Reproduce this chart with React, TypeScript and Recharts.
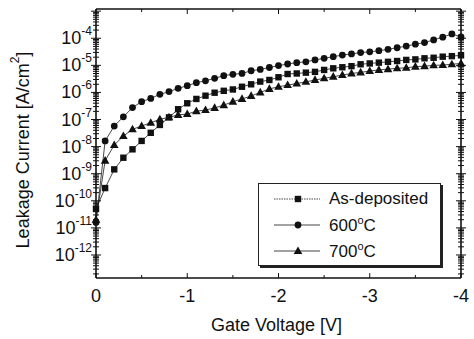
import React from 'react';
import { LineChart, Line, XAxis, YAxis, Legend, Label } from 'recharts';

// gate voltage (V), one point every 0.1 V
const voltage = [
  0, -0.1, -0.2, -0.3, -0.4, -0.5, -0.6, -0.7, -0.8, -0.9, -1.0,
  -1.1, -1.2, -1.3, -1.4, -1.5, -1.6, -1.7, -1.8, -1.9, -2.0,
  -2.1, -2.2, -2.3, -2.4, -2.5, -2.6, -2.7, -2.8, -2.9, -3.0,
  -3.1, -3.2, -3.3, -3.4, -3.5, -3.6, -3.7, -3.8, -3.9, -4.0,
];

// log10 of leakage current density (A/cm^2)
const asDeposited = [
  -10.3, -9.53, -8.84, -8.41, -8.10, -7.79, -7.49, -7.20, -6.92, -6.62, -6.40,
  -6.24, -6.12, -6.01, -5.94, -5.89, -5.79, -5.70, -5.60, -5.54, -5.44,
  -5.32, -5.30, -5.27, -5.24, -5.17, -5.11, -5.07, -5.03, -4.96, -4.93,
  -4.90, -4.87, -4.84, -4.80, -4.78, -4.74, -4.72, -4.68, -4.66, -4.63,
];
const annealed600 = [
  -10.8, -7.79, -7.24, -6.90, -6.56, -6.34, -6.22, -6.07, -5.97, -5.85, -5.75,
  -5.64, -5.57, -5.48, -5.38, -5.33, -5.30, -5.20, -5.15, -5.08, -5.01,
  -4.95, -4.90, -4.87, -4.80, -4.74, -4.68, -4.62, -4.58, -4.53, -4.50,
  -4.46, -4.41, -4.35, -4.29, -4.22, -4.16, -4.06, -3.96, -3.84, -3.95,
];
const annealed700 = [
  -10.7, -8.52, -7.94, -7.61, -7.36, -7.24, -7.12, -6.99, -6.92, -6.83, -6.80,
  -6.69, -6.65, -6.57, -6.47, -6.34, -6.24, -6.13, -6.00, -5.87, -5.79,
  -5.73, -5.67, -5.61, -5.54, -5.48, -5.42, -5.36, -5.30, -5.26, -5.21,
  -5.17, -5.14, -5.11, -5.09, -5.05, -5.03, -5.00, -4.99, -4.96, -4.93,
];

const decades = [-12, -11, -10, -9, -8, -7, -6, -5, -4];
const xTicks = [0, -0.5, -1, -1.5, -2, -2.5, -3, -3.5, -4];
const yDomain = [-12.85, -2.92];

const data = voltage.map((v, i) => ({
  v,
  asDep: asDeposited[i],
  c600: annealed600[i],
  c700: annealed700[i],
}));

// log minor ticks inside the domain
const yTicks: number[] = [];
for (let d = -13; d <= -3; d++) {
  for (let k = 1; k <= 9; k++) {
    const t = d + Math.log10(k);
    if (t >= yDomain[0] && t <= yDomain[1]) yTicks.push(t);
  }
}

const FONT = "'Liberation Sans', Arial, sans-serif";
const INK = '#111';

const isMajor = (t: number) => Math.abs(t - Math.round(t)) < 1e-6;

const LeftTick = (props: any) => {
  const { x, y, payload } = props;
  const major = isMajor(payload.value);
  const len = major ? 5 : 3;
  return (
    <g>
      <line x1={x - len} x2={x + len} y1={y} y2={y} stroke={INK} strokeWidth={1} />
      {major && decades.includes(Math.round(payload.value)) && (
        <text x={x - 4} y={y + 6} textAnchor="end" fontSize={18} fontFamily={FONT} fill={INK}>
          <tspan>10</tspan>
          <tspan dy={-9} fontSize={12}>{Math.round(payload.value)}</tspan>
        </text>
      )}
    </g>
  );
};

const RightTick = (props: any) => {
  const { x, y, payload } = props;
  const len = isMajor(payload.value) ? 5 : 3;
  return <line x1={x - len} x2={x + len} y1={y} y2={y} stroke={INK} strokeWidth={1} />;
};

const BottomTick = (props: any) => {
  const { x, y, payload } = props;
  const major = isMajor(payload.value);
  return (
    <g>
      <line x1={x} x2={x} y1={y} y2={y - (major ? 5 : 3)} stroke={INK} strokeWidth={1} />
      {major && (
        <text x={x} y={y + 24} textAnchor="middle" fontSize={18} fontFamily={FONT} fill={INK}>
          {payload.value === 0 ? '0' : `-${Math.abs(payload.value)}`}
        </text>
      )}
    </g>
  );
};

const TopTick = (props: any) => {
  const { x, y, payload } = props;
  return <line x1={x} x2={x} y1={y} y2={y + (isMajor(payload.value) ? 5 : 3)} stroke={INK} strokeWidth={1} />;
};

const SquareDot = (props: any) => {
  const { cx, cy, key } = props;
  if (cx == null || cy == null) return <g key={key} />;
  return <rect key={key} x={cx - 3.2} y={cy - 3.2} width={6.4} height={6.4} fill={INK} />;
};

const CircleDot = (props: any) => {
  const { cx, cy, key } = props;
  if (cx == null || cy == null) return <g key={key} />;
  return <circle key={key} cx={cx} cy={cy} r={3.4} fill={INK} />;
};

const TriangleDot = (props: any) => {
  const { cx, cy, key } = props;
  if (cx == null || cy == null) return <g key={key} />;
  return <polygon key={key} points={`${cx},${cy - 4.6} ${cx - 4.3},${cy + 3} ${cx + 4.3},${cy + 3}`} fill={INK} />;
};

const legendRows = [
  { name: 'As-deposited', Dot: SquareDot, dash: '1.5 1' },
  { name: '600°C', Dot: CircleDot, dash: undefined },
  { name: '700°C', Dot: TriangleDot, dash: undefined },
];

const LegendBox = () => (
  <div
    style={{
      width: 183,
      height: 83,
      border: '1px solid #222',
      boxShadow: '2px 2px 0 #222',
      background: '#fff',
      fontFamily: FONT,
      fontSize: 17,
      color: INK,
      paddingTop: 2,
      boxSizing: 'border-box',
    }}
  >
    {legendRows.map((r) => (
      <div key={r.name} style={{ display: 'flex', alignItems: 'center', height: 26 }}>
        <svg width={64} height={14} style={{ marginLeft: 12 }}>
          <line x1={3} x2={49} y1={7} y2={7} stroke="#444" strokeWidth={1} strokeDasharray={r.dash} />
          {r.Dot({ cx: 27, cy: 7 })}
        </svg>
        <span style={{ marginLeft: -6 }}>
          {r.name === 'As-deposited' ? r.name : (
            <>
              {r.name.replace('°C', '')}
              <sup style={{ fontSize: 11 }}>o</sup>C
            </>
          )}
        </span>
      </div>
    ))}
  </div>
);

const yTitle = () => {
  const cx = 23;
  const cy = 150;
  return (
    <text
      x={cx}
      y={cy}
      transform={`rotate(-90 ${cx} ${cy})`}
      textAnchor="middle"
      dominantBaseline="central"
      fontSize={18}
      fontFamily={FONT}
      fill={INK}
    >
      <tspan>Leakage Current [A/cm</tspan>
      <tspan dy={-8} fontSize={12}>2</tspan>
      <tspan dy={8}>]</tspan>
    </text>
  );
};

const xTitle = (props: any) => {
  const vb = props.viewBox;
  return (
    <text x={vb.x + vb.width / 2 - 2} y={331} textAnchor="middle" fontSize={18} fontFamily={FONT} fill={INK}>
      Gate Voltage [V]
    </text>
  );
};

export default function App() {
  return (
    <div style={{ position: 'absolute', left: 0, top: 0, background: '#fff' }}>
      <LineChart width={474} height={339} data={data} margin={{ top: 8, right: 12, left: 36, bottom: 31 }}>
        <XAxis
          dataKey="v"
          type="number"
          domain={[-4, 0]}
          reversed
          ticks={xTicks}
          interval={0}
          height={30}
          tickSize={0}
          tickMargin={0}
          tick={<BottomTick />}
          axisLine={{ stroke: INK, strokeWidth: 1.6 }}
          tickLine={false}
        >
          <Label content={xTitle} />
        </XAxis>
        <XAxis
          xAxisId="top"
          orientation="top"
          dataKey="v"
          type="number"
          domain={[-4, 0]}
          reversed
          ticks={xTicks}
          interval={0}
          height={1}
          tickSize={0}
          tickMargin={0}
          tick={<TopTick />}
          axisLine={{ stroke: INK, strokeWidth: 1.6 }}
          tickLine={false}
        />
        <YAxis
          type="number"
          domain={yDomain}
          allowDataOverflow
          ticks={yTicks}
          interval={0}
          width={60}
          tickSize={0}
          tickMargin={0}
          tick={<LeftTick />}
          axisLine={{ stroke: INK, strokeWidth: 1.6 }}
          tickLine={false}
        >
          <Label content={yTitle} />
        </YAxis>
        <YAxis
          yAxisId="right"
          orientation="right"
          type="number"
          domain={yDomain}
          allowDataOverflow
          ticks={yTicks}
          interval={0}
          width={1}
          tickSize={0}
          tickMargin={0}
          tick={<RightTick />}
          axisLine={{ stroke: INK, strokeWidth: 1.6 }}
          tickLine={false}
        />
        <Legend
          layout="vertical"
          align="center"
          verticalAlign="middle"
          content={<LegendBox />}
          wrapperStyle={{ left: 258, top: 183, width: 186, height: 86 }}
        />
        <Line dataKey="asDep" name="As-deposited" stroke="#333" strokeWidth={0.9} dot={SquareDot} isAnimationActive={false} />
        <Line dataKey="c600" name="600°C" stroke="#333" strokeWidth={0.9} dot={CircleDot} isAnimationActive={false} />
        <Line dataKey="c700" name="700°C" stroke="#333" strokeWidth={0.9} dot={TriangleDot} isAnimationActive={false} />
      </LineChart>
    </div>
  );
}
